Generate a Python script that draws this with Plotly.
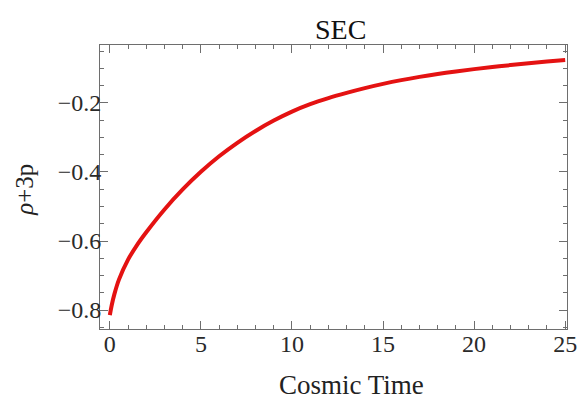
import plotly.graph_objects as go

# Data
cosmic_time = [0, 0.1, 0.25, 0.5, 1, 1.5, 2, 3, 4, 5, 6, 7, 8, 9, 10, 11, 12, 13, 14,
               15, 16, 17, 18, 19, 20, 21, 22, 23, 24, 25]
sec_values = [-0.815, -0.787, -0.754, -0.712, -0.654, -0.611, -0.5745, -0.5085,
              -0.4505, -0.3995, -0.3545, -0.3155, -0.281, -0.251, -0.225, -0.2035,
              -0.186, -0.1708, -0.157, -0.1448, -0.1339, -0.1243, -0.1159, -0.1085,
              -0.1019, -0.0958, -0.0902, -0.0850, -0.0801, -0.0756]
x_ticks = [0, 5, 10, 15, 20, 25]
y_ticks = [-0.8, -0.6, -0.4, -0.2]
y_tick_labels = ["\u22120.8", "\u22120.6", "\u22120.4", "\u22120.2"]

FONT = "Liberation Serif, Times New Roman, serif"
FRAME = "#6e6e6e"

fig = go.Figure()
fig.add_trace(go.Scatter(
    x=cosmic_time, y=sec_values, mode="lines",
    line=dict(color="rgb(228,18,18)", width=4, shape="spline", smoothing=1.0),
    showlegend=False, hoverinfo="skip"))

axis_common = dict(
    showgrid=False, zeroline=False, showline=True, linecolor=FRAME, linewidth=1,
    mirror="ticks", ticks="inside", ticklen=8, tickcolor=FRAME, tickwidth=1,
    tickfont=dict(family=FONT, size=24, color="#2a2a2a"),
    ticklabeloverflow="allow",
)

fig.update_layout(
    width=587, height=403,
    margin=dict(l=100, r=10, t=45, b=74),
    paper_bgcolor="white", plot_bgcolor="white",
    font=dict(family=FONT),
    xaxis=dict(range=[-0.54, 25.1], tickvals=x_ticks, ticklabelstandoff=-7,
               minor=dict(dtick=1, tick0=0, ticks="inside", ticklen=4, tickcolor=FRAME),
               **axis_common),
    yaxis=dict(range=[-0.855, -0.032], tickvals=y_ticks, ticktext=y_tick_labels,
               ticklabelstandoff=-7,
               minor=dict(dtick=0.05, tick0=0, ticks="inside", ticklen=4, tickcolor=FRAME),
               **axis_common),
    annotations=[
        dict(text="SEC", xref="paper", yref="paper", x=0.515, y=1.0, yshift=16,
             showarrow=False, xanchor="center", yanchor="middle",
             font=dict(family=FONT, size=28, color="#111111")),
        dict(text="Cosmic Time", xref="paper", yref="paper", x=0.538, y=0, yshift=-56,
             showarrow=False, xanchor="center", yanchor="middle",
             font=dict(family=FONT, size=27, color="#222222")),
        dict(text="<i>\u03c1</i>+3p", xref="paper", yref="paper", x=0, xshift=-75,
             y=0.49, textangle=-90, showarrow=False, xanchor="center", yanchor="middle",
             font=dict(family=FONT, size=25, color="#222222")),
    ],
)

fig.write_html("out.html")
